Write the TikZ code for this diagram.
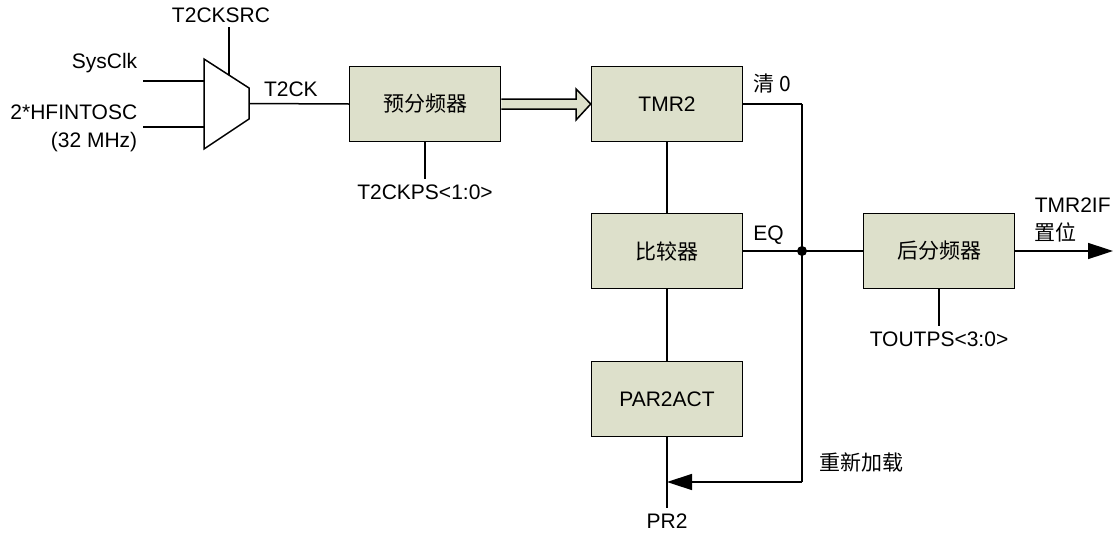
\documentclass[tikz,border=0pt]{standalone}
\usepackage{fontspec}
\setmainfont{Liberation Sans}
\newfontfamily\cjk{Noto Sans CJK SC}
\usetikzlibrary{arrows.meta,calc}
\definecolor{boxfill}{RGB}{221,224,203}

\begin{document}
\begin{tikzpicture}[x=1pt,y=-1pt,line width=1.5pt,>={Triangle[length=25pt,width=16pt]},
  every node/.style={font=\fontsize{21}{28}\selectfont,inner sep=0pt},
  blk/.style={draw,fill=boxfill,minimum width=151pt,minimum height=75pt}]
  \useasboundingbox (0,0) rectangle (1115,538);
  % clock select
  \coordinate (m1) at (204,59);
  \coordinate (m2) at (249,88);
  \coordinate (m3) at (249,119);
  \coordinate (m4) at (204,149);
  \coordinate (sel) at (229,75);
  \draw[fill=white] (m1) -- (m2) -- (m3) -- (m4) -- cycle;
  \node (src) at (221,15) {T2CKSRC};
  \draw (sel |- src.south) ++(0,4) -- (sel);
  \node[anchor=east] (sys) at (138,63) {SysClk};
  \node[anchor=east,align=right] (hf) at (138,128) {2*HFINTOSC\\(32 MHz)};
  \coordinate (i1) at (143,81);
  \coordinate (i2) at (143,127);
  \draw (i1) -- (m1 |- i1);
  \draw (i2) -- (m1 |- i2);
  % blocks
  \node[blk] (pre) at (425,104) {\cjk{预分频器}};
  \node[blk] (tmr) at (667,104) {TMR2};
  \node[blk] (cmp) at (667,251) {\cjk{比较器}};
  \node[blk] (par) at (667,399) {PAR2ACT};
  \node[blk] (post) at (939,251) {\cjk{后分频器}};
  \draw ($(m2)!0.5!(m3)$) -- (pre.west) node[pos=0.42,above=6pt] {T2CK};
  \draw (pre.south) -- ++(0,37) node[below=5pt] (ckps) {T2CKPS<1:0>};
  \draw[fill=boxfill] (pre.east |- 0,99) -- (576,99) -- (576,89) -- (tmr.west)
    -- (576,120) -- (576,109) -- (pre.east |- 0,109);
  \draw (tmr.south) -- (cmp.north);
  \draw (cmp.south) -- (par.north);
  % reload path
  \coordinate (j) at (802,251);
  \coordinate (clr) at (802,104);
  \coordinate (rl) at (802,482);
  \draw (tmr.east) -- (clr) node[pos=0.5,above=10pt] {\cjk{清} 0};
  \draw (clr) -- (rl);
  \draw[->] (rl) -- (par.south |- rl);
  \node[anchor=west] (rld) at (819,462) {\cjk{重新加载}};
  \draw (par.south) -- ++(0,71) node[below=5pt] (pr) {PR2};
  \draw (cmp.east) -- (j) node[pos=0.43,above=6pt] {EQ};
  \draw (j) -- (post.west);
  \fill (j) circle (5pt);
  \draw (post.south) -- ++(0,37) node[below=5pt] (outps) {TOUTPS<3:0>};
  \coordinate (out) at (1113,251);
  \draw[->] (post.east) -- (out);
  \node[anchor=west,align=left] (flag) at (1034,220) {TMR2IF\\\cjk{置位}};
\end{tikzpicture}
\end{document}
